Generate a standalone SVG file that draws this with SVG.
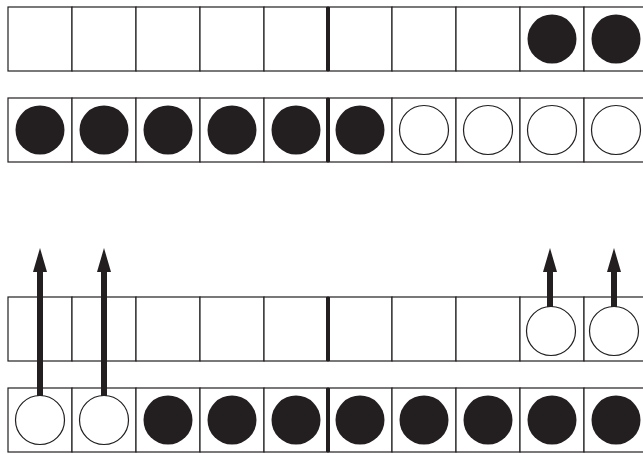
<svg xmlns="http://www.w3.org/2000/svg" width="643" height="454" viewBox="0 0 643 454">
<style>
.cell{fill:#fff;stroke:#231f20;stroke-width:1.2}
.div{stroke:#231f20;stroke-width:4}
.f{fill:#231f20}
.o{fill:#fff;stroke:#231f20;stroke-width:1.2}
.arr{stroke:#231f20;stroke-width:6;fill:none}
</style>
<defs>
<marker id="ah" markerUnits="userSpaceOnUse" markerWidth="24" markerHeight="14" refX="0" refY="7" orient="auto" viewBox="0 0 24 14">
<path d="M0,0 L24,7 L0,14 z" fill="#231f20"/>
</marker>
<g id="grid">
<rect class="cell" x="8" y="0" width="64" height="64"/>
<rect class="cell" x="72" y="0" width="64" height="64"/>
<rect class="cell" x="136" y="0" width="64" height="64"/>
<rect class="cell" x="200" y="0" width="64" height="64"/>
<rect class="cell" x="264" y="0" width="64" height="64"/>
<rect class="cell" x="328" y="0" width="64" height="64"/>
<rect class="cell" x="392" y="0" width="64" height="64"/>
<rect class="cell" x="456" y="0" width="64" height="64"/>
<rect class="cell" x="520" y="0" width="64" height="64"/>
<rect class="cell" x="584" y="0" width="64" height="64"/>
<line class="div" x1="328" y1="0" x2="328" y2="64"/>
</g>
</defs>
<g id="row1">
<use href="#grid" y="7"/>
<circle class="f" cx="552" cy="39" r="24.5"/>
<circle class="f" cx="616" cy="39" r="24.5"/>
</g>
<g id="row2">
<use href="#grid" y="98"/>
<circle class="f" cx="40" cy="130" r="24.5"/>
<circle class="f" cx="104" cy="130" r="24.5"/>
<circle class="f" cx="168" cy="130" r="24.5"/>
<circle class="f" cx="232" cy="130" r="24.5"/>
<circle class="f" cx="296" cy="130" r="24.5"/>
<circle class="f" cx="360" cy="130" r="24.5"/>
<circle class="o" cx="424" cy="130" r="24.5"/>
<circle class="o" cx="488" cy="130" r="24.5"/>
<circle class="o" cx="552" cy="130" r="24.5"/>
<circle class="o" cx="616" cy="130" r="24.5"/>
</g>
<g id="row3">
<use href="#grid" y="297"/>
<circle class="o" cx="551" cy="331" r="24.5"/>
<circle class="o" cx="614" cy="331" r="24.5"/>
</g>
<g id="row4">
<use href="#grid" y="388"/>
<circle class="o" cx="40" cy="420" r="24.5"/>
<circle class="o" cx="104" cy="420" r="24.5"/>
<circle class="f" cx="168" cy="420" r="24.5"/>
<circle class="f" cx="232" cy="420" r="24.5"/>
<circle class="f" cx="296" cy="420" r="24.5"/>
<circle class="f" cx="360" cy="420" r="24.5"/>
<circle class="f" cx="424" cy="420" r="24.5"/>
<circle class="f" cx="488" cy="420" r="24.5"/>
<circle class="f" cx="552" cy="420" r="24.5"/>
<circle class="f" cx="616" cy="420" r="24.5"/>
</g>
<g id="connectors">
<line class="arr" x1="40" y1="396" x2="40" y2="272" marker-end="url(#ah)"/>
<line class="arr" x1="104" y1="396" x2="104" y2="272" marker-end="url(#ah)"/>
<line class="arr" x1="550" y1="307" x2="550" y2="272" marker-end="url(#ah)"/>
<line class="arr" x1="614" y1="307" x2="614" y2="272" marker-end="url(#ah)"/>
</g>
</svg>
